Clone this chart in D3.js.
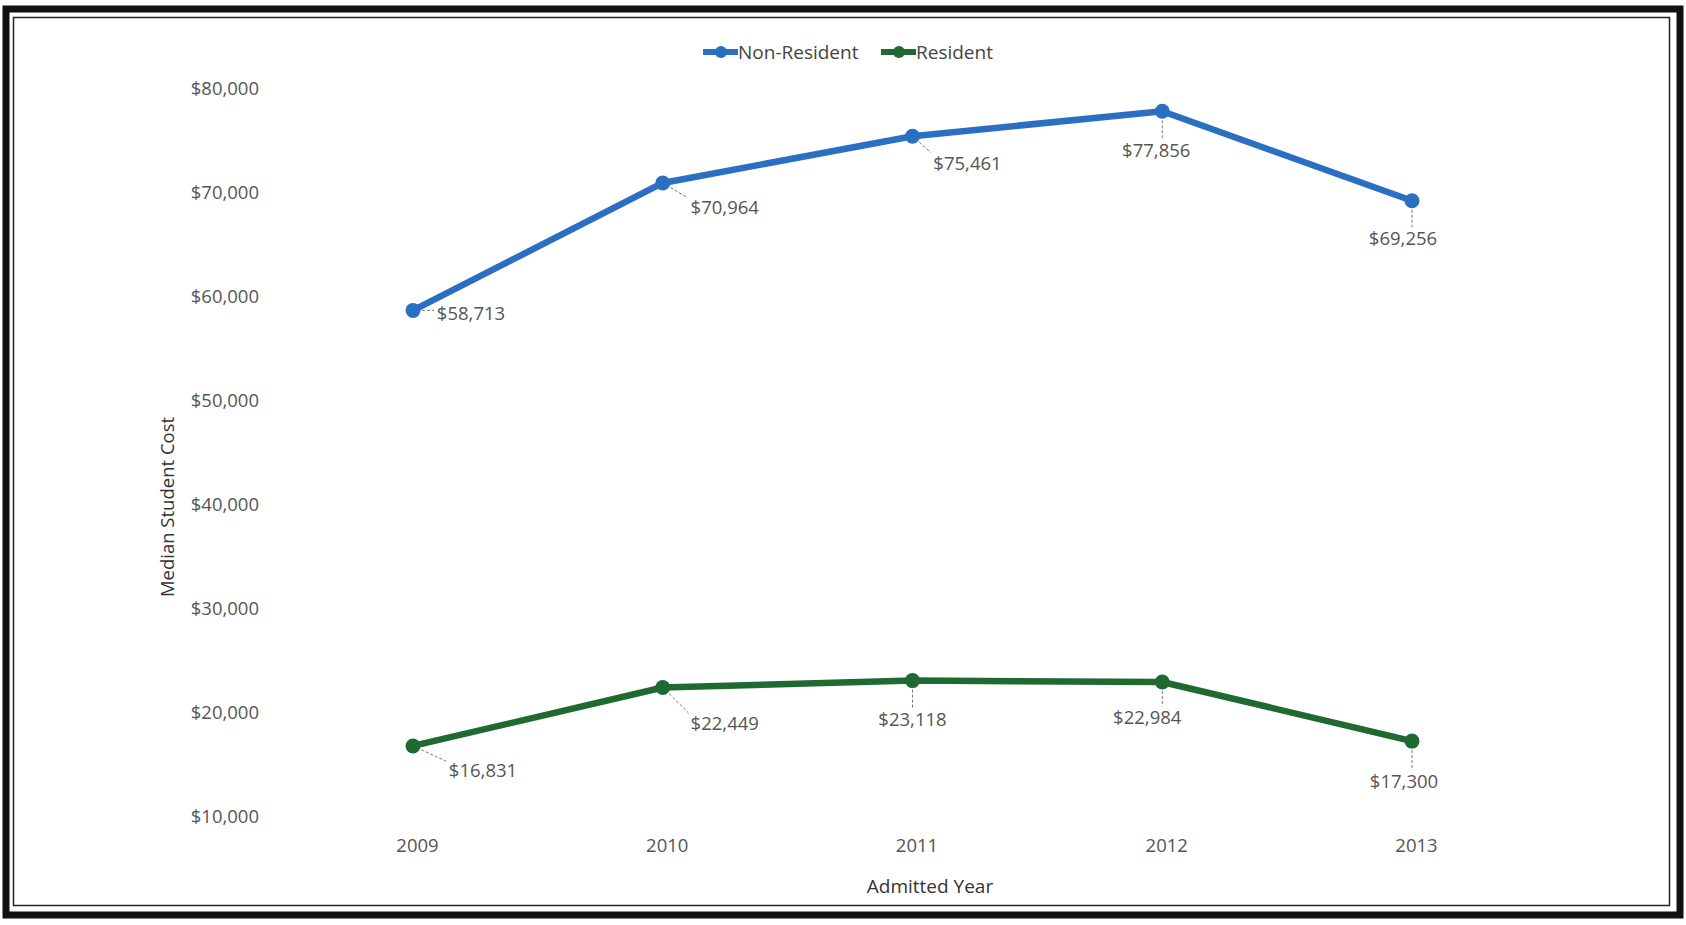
<!DOCTYPE html>
<html>
<head>
<meta charset="utf-8">
<script src="https://cdn.jsdelivr.net/npm/d3@7"></script>
<style>
  body { margin: 0; background: #fff; }
  text { font-family: "Open Sans", Lato, sans-serif; }
</style>
</head>
<body>
<div id="chart"></div>
<script>
const years = [2009, 2010, 2011, 2012, 2013];
const nonResident = [58713, 70964, 75461, 77856, 69256];
const resident = [16831, 22449, 23118, 22984, 17300];
const yTicks = [10000, 20000, 30000, 40000, 50000, 60000, 70000, 80000];

// where each value label sits relative to its point (px)
const nonResOffsets = [[58, 2], [62, 24], [55, 26], [-6, 38], [-9, 37]];
const resOffsets = [[70, 24], [62, 35], [0, 38], [-15, 35], [-8, 39]];

const width = 1686, height = 925;
const svg = d3.select("#chart").append("svg")
    .attr("width", width)
    .attr("height", height);

// double frame
svg.append("rect").attr("x", 6).attr("y", 9).attr("width", 1674).attr("height", 906)
    .attr("fill", "none").attr("stroke", "#111").attr("stroke-width", 7);
svg.append("rect").attr("x", 13.5).attr("y", 17.5).attr("width", 1656).attr("height", 888)
    .attr("fill", "none").attr("stroke", "#222").attr("stroke-width", 1.5);

const x = d3.scalePoint().domain(years).range([413, 1412]);
const y = d3.scaleLinear().domain([10000, 80000]).range([817, 89]);

const fontFam = "'Open Sans', Lato, sans-serif";

const yAxis = svg.append("g")
    .attr("transform", "translate(259,0)")
    .call(d3.axisLeft(y).tickValues(yTicks).tickSize(0).tickPadding(0).tickFormat(d3.format("$,")));
yAxis.select(".domain").remove();
yAxis.selectAll("text").attr("font-size", 18.5).attr("fill", "#555")
    .style("font-family", fontFam);

const xAxis = svg.append("g")
    .attr("transform", "translate(4,839)")
    .call(d3.axisBottom(x).tickSize(0).tickPadding(0).tickFormat(d3.format("d")));
xAxis.select(".domain").remove();
xAxis.selectAll("text").attr("font-size", 18.5).attr("fill", "#555")
    .style("font-family", fontFam);

svg.append("text")
    .attr("x", 930).attr("y", 893)
    .attr("text-anchor", "middle")
    .attr("font-size", 19).attr("fill", "#333")
    .text("Admitted Year");

svg.append("text")
    .attr("transform", "translate(174,507) rotate(-90)")
    .attr("text-anchor", "middle")
    .attr("font-size", 18.5).attr("fill", "#333")
    .text("Median Student Cost");

const series = [
    { name: "Non-Resident", values: nonResident, offsets: nonResOffsets, color: "#2a6fc2" },
    { name: "Resident", values: resident, offsets: resOffsets, color: "#1f6a31" }
];

const line = d3.line().x((d, i) => x(years[i])).y(d => y(d));

series.forEach(s => {
    const g = svg.append("g");
    g.append("path")
        .attr("d", line(s.values))
        .attr("fill", "none")
        .attr("stroke", s.color)
        .attr("stroke-width", 6.5)
        .attr("stroke-linejoin", "round");

    g.selectAll("circle")
        .data(s.values)
        .enter()
        .append("circle")
        .attr("cx", (d, i) => x(years[i]))
        .attr("cy", d => y(d))
        .attr("r", 7.5)
        .attr("fill", s.color);

    s.values.forEach((v, i) => {
        const px = x(years[i]), py = y(v);
        const [dx, dy] = s.offsets[i];
        const t = g.append("text")
            .attr("x", px + dx).attr("y", py + dy)
            .attr("text-anchor", "middle")
            .attr("dominant-baseline", "central")
            .attr("font-size", 18.5).attr("fill", "#555")
            .text(d3.format("$,")(v));
        const b = t.node().getBBox();
        // leader line toward the nearest point of the label box
        const nx = Math.max(b.x, Math.min(px, b.x + b.width));
        const ny = Math.max(b.y + 5, Math.min(py, b.y + b.height - 5));
        const len = Math.hypot(nx - px, ny - py);
        if (len > 14) {
            const ux = (nx - px) / len, uy = (ny - py) / len;
            g.append("line")
                .attr("x1", px + ux * 9).attr("y1", py + uy * 9)
                .attr("x2", nx - ux * 3).attr("y2", ny - uy * 3)
                .attr("stroke", "#777").attr("stroke-width", 1)
                .attr("stroke-dasharray", "3,2");
        }
    });
});

// legend
const legend = svg.append("g").attr("transform", "translate(0,52)");
const legendItems = [
    { name: "Non-Resident", color: "#2a6fc2", x: 703 },
    { name: "Resident", color: "#1f6a31", x: 881 }
];
legendItems.forEach(l => {
    legend.append("line")
        .attr("x1", l.x).attr("x2", l.x + 35)
        .attr("stroke", l.color).attr("stroke-width", 6);
    legend.append("circle")
        .attr("cx", l.x + 18).attr("r", 6).attr("fill", l.color);
    legend.append("text")
        .attr("x", l.x + 35).attr("dominant-baseline", "central")
        .attr("font-size", 19).attr("fill", "#444")
        .text(l.name);
});
</script>
</body>
</html>
